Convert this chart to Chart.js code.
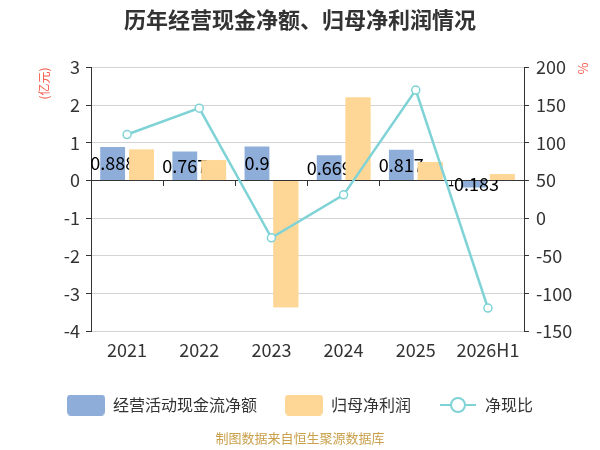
<!DOCTYPE html>
<html>
<head>
<meta charset="utf-8">
<script src="https://cdn.jsdelivr.net/npm/chart.js@4/dist/chart.umd.min.js"></script>
<style>
  html, body { margin: 0; padding: 0; background: #fff; }
  #wrap { width: 600px; height: 450px; position: relative; }
</style>
</head>
<body>
<div id="wrap"><canvas id="cashChart"></canvas></div>
<script>
const years = ["2021", "2022", "2023", "2024", "2025", "2026H1"];
const operatingCash = [0.888, 0.767, 0.9, 0.669, 0.817, -0.183];   // 亿元
const netProfit = [0.82, 0.54, -3.36, 2.2, 0.49, 0.17];            // 亿元
const cashRatio = [111, 146, -26, 31, 170, -119];                   // %
const leftTicks = { min: -4, max: 3, step: 1 };
const rightTicks = { min: -150, max: 200, step: 50 };

const BLUE = "#8eaed9";
const ORANGE = "#fed796";
const TEAL = "#7fd3d6";
const FONT = "'Noto Sans CJK SC', 'Noto Sans', sans-serif";

// little canvases used as legend symbols
function boxIcon(color) {
  const c = document.createElement("canvas");
  c.width = 38; c.height = 21;
  const g = c.getContext("2d");
  g.fillStyle = color;
  g.beginPath();
  g.roundRect(0, 0, 38, 21, 4);
  g.fill();
  return c;
}
function lineIcon(color) {
  const c = document.createElement("canvas");
  c.width = 36; c.height = 18;
  const g = c.getContext("2d");
  g.strokeStyle = color;
  g.lineWidth = 2;
  g.beginPath();
  g.moveTo(0, 9); g.lineTo(36, 9);
  g.stroke();
  g.fillStyle = "#fff";
  g.beginPath();
  g.arc(18, 9, 7, 0, Math.PI * 2);
  g.fill();
  g.stroke();
  return c;
}
const icons = [boxIcon(BLUE), boxIcon(ORANGE), lineIcon(TEAL)];

// value labels in the middle of the blue bars, then the orange bars go over them again
const barLabels = {
  id: "barLabels",
  afterDatasetDraw(chart, args) {
    if (args.index !== 0) return;
    const ctx = chart.ctx;
    ctx.save();
    ctx.font = "18px " + FONT;
    ctx.fillStyle = "#000";
    ctx.textAlign = "center";
    ctx.textBaseline = "middle";
    args.meta.data.forEach((bar, i) => {
      ctx.fillText(String(operatingCash[i]), bar.x, (bar.y + bar.base) / 2);
    });
    ctx.restore();
    chart.getDatasetMeta(1).controller.draw();
  }
};

// unit texts near the top of both axes + source footer
const extraTexts = {
  id: "extraTexts",
  afterDraw(chart) {
    const ctx = chart.ctx;
    const area = chart.chartArea;
    ctx.save();
    ctx.fillStyle = "#f5594a";
    ctx.font = "12px " + FONT;
    ctx.textAlign = "center";
    ctx.textBaseline = "middle";
    ctx.translate(44, area.top + 16);
    ctx.rotate(-Math.PI / 2);
    ctx.fillText("(亿元)", 0, 0);
    ctx.restore();

    ctx.save();
    ctx.fillStyle = "#f5594a";
    ctx.font = "13px " + FONT;
    ctx.textAlign = "center";
    ctx.textBaseline = "middle";
    ctx.translate(583, area.top + 1);
    ctx.rotate(Math.PI / 2);
    ctx.fillText("%", 0, 0);
    ctx.restore();

    ctx.save();
    ctx.fillStyle = "#c9a04c";
    ctx.font = "13px " + FONT;
    ctx.textAlign = "center";
    ctx.textBaseline = "middle";
    ctx.fillText("制图数据来自恒生聚源数据库", 300, 438);
    ctx.restore();
  }
};

new Chart(document.getElementById("cashChart"), {
  type: "bar",
  data: {
    labels: years,
    datasets: [
      {
        label: "经营活动现金流净额",
        data: operatingCash,
        backgroundColor: BLUE,
        yAxisID: "y",
        categoryPercentage: 0.8,
        barPercentage: 0.86,
        order: 0
      },
      {
        label: "归母净利润",
        data: netProfit,
        backgroundColor: ORANGE,
        yAxisID: "y",
        categoryPercentage: 0.8,
        barPercentage: 0.86,
        order: 0
      },
      {
        type: "line",
        label: "净现比",
        data: cashRatio,
        yAxisID: "y1",
        borderColor: TEAL,
        borderWidth: 2.5,
        pointRadius: 4,
        pointBackgroundColor: "#fff",
        pointBorderColor: TEAL,
        pointBorderWidth: 1.5,
        tension: 0,
        order: -1
      }
    ]
  },
  options: {
    responsive: true,
    maintainAspectRatio: false,
    animation: false,
    devicePixelRatio: 1,
    layout: { padding: { top: 0, left: 0, right: 0, bottom: 27 } },
    scales: {
      x: {
        grid: { display: false, drawTicks: false },
        border: { display: false },
        ticks: { color: "#333", font: { size: 18, family: FONT }, padding: 8 }
      },
      x0: {
        type: "category",
        labels: years,
        position: { y: 0 },
        offset: true,
        grid: { offset: true, drawOnChartArea: false, tickLength: 5, tickColor: "#333" },
        border: { color: "#333" },
        ticks: { display: false }
      },
      y: {
        position: "left",
        min: leftTicks.min,
        max: leftTicks.max,
        ticks: { stepSize: leftTicks.step, color: "#333", font: { size: 18, family: FONT }, padding: 6 },
        grid: { color: "#d4d4d4", tickColor: "#333", tickLength: 5 },
        border: { color: "#333" },
        afterFit(scale) { scale.width = 91; }
      },
      y1: {
        position: "right",
        min: rightTicks.min,
        max: rightTicks.max,
        ticks: { stepSize: rightTicks.step, color: "#333", font: { size: 18, family: FONT }, padding: 7 },
        grid: { drawOnChartArea: false, tickColor: "#333", tickLength: 5 },
        border: { color: "#333" },
        afterFit(scale) { scale.width = 76; }
      }
    },
    plugins: {
      title: {
        display: true,
        text: "历年经营现金净额、归母净利润情况",
        color: "#333",
        font: { size: 22, weight: "bold", family: FONT },
        padding: { top: 6, bottom: 35 }
      },
      legend: {
        position: "bottom",
        labels: {
          usePointStyle: true,
          pointStyleWidth: 38,
          padding: 28,
          color: "#333",
          font: { size: 16, family: FONT },
          sort: (a, b) => a.datasetIndex - b.datasetIndex,
          generateLabels(chart) {
            return chart.data.datasets.map((ds, i) => ({
              text: ds.label,
              datasetIndex: i,
              pointStyle: icons[i],
              fillStyle: "transparent",
              strokeStyle: "transparent",
              lineWidth: 0,
              fontColor: "#333",
              hidden: false
            }));
          }
        }
      },
      tooltip: { enabled: false }
    }
  },
  plugins: [barLabels, extraTexts]
});
</script>
</body>
</html>
